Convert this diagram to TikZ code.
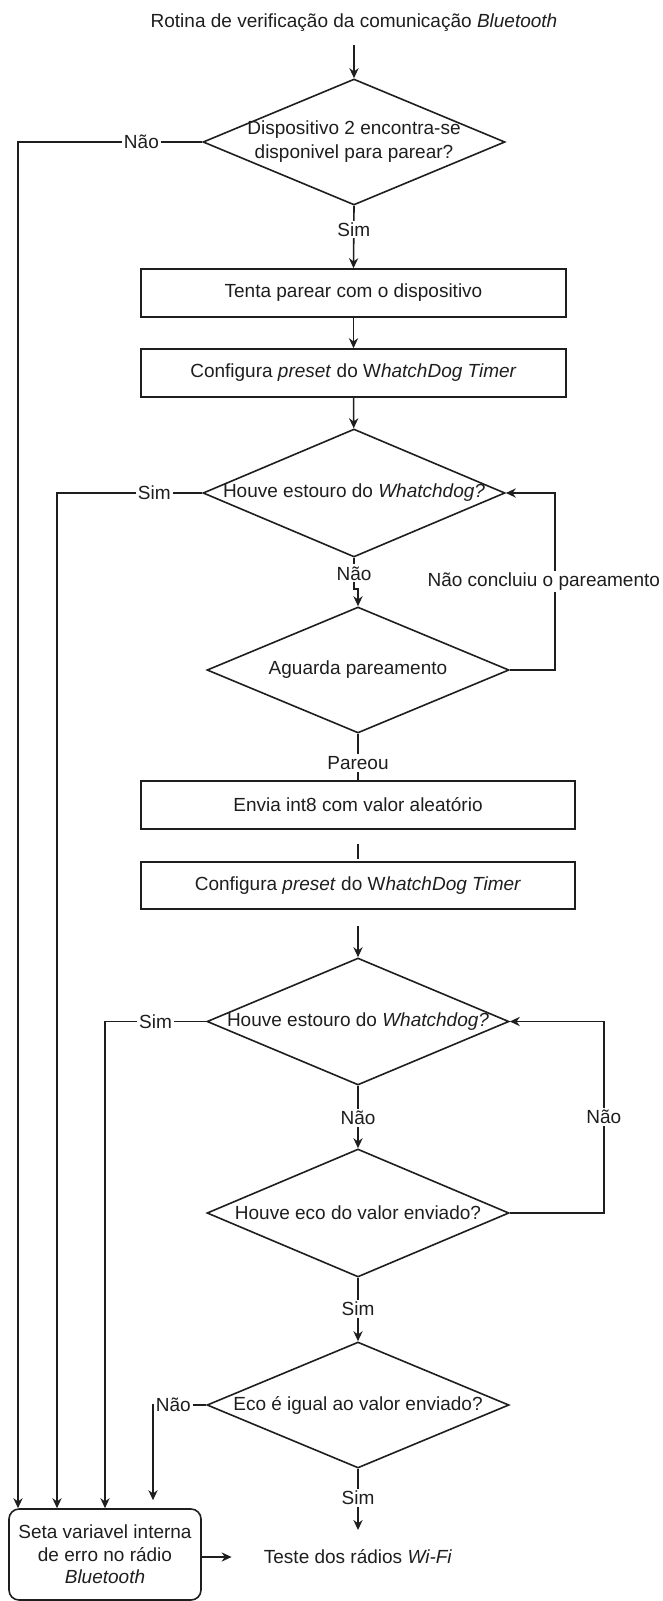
\documentclass[tikz,border=0pt]{standalone}
\usepackage{fontspec}
\setmainfont{Liberation Sans}
\usetikzlibrary{shapes.geometric,arrows.meta,calc}
\definecolor{ink}{HTML}{1E1E1E}
\begin{document}
\begin{tikzpicture}[x=0.5pt,y=-0.5pt,
  every node/.style={font=\fontsize{9.5}{12}\selectfont, text=ink},
  line/.style={draw=ink, line width=0.8pt},
  arr/.style={line, -{Stealth[length=5pt,width=4.6pt]}},
  dia/.style={diamond, draw=ink, line width=0.8pt, minimum width=151pt, minimum height=63pt, inner sep=0pt},
  procbox/.style={rectangle, draw=ink, line width=0.8pt, minimum width=212.5pt, minimum height=24pt, inner sep=0pt},
  lbl/.style={fill=white, inner sep=1pt},
  plain/.style={inner sep=0pt}
]
\useasboundingbox (0,0) rectangle (663,1601);

% title
\node[inner xsep=2pt, inner ysep=7pt, text height=7pt, text depth=2pt] (title) at (354,22) {Rotina de verificação da comunicação \textit{Bluetooth}};

% decision 1
\node[dia] (D1) at (354,142) {};
\node[plain, align=center] (D1t) at (D1) {Dispositivo 2 encontra-se\\disponivel para parear?};

% boxes 1,2
\node[procbox] (B1) at (353.5,293) {Tenta parear com o dispositivo};
\node[procbox] (B2) at (353.5,373) {Configura \textit{preset} do W\textit{hatchDog Timer}};

% decision 2
\node[dia, minimum height=64pt] (D2) at (354,493) {};
\node[plain] (D2t) at (D2) {Houve estouro do \textit{Whatchdog?}};

% decision 3
\node[dia] (D3) at (358,670) {};
\node[plain] (D3t) at (D3) {Aguarda pareamento};

% boxes 3,4
\node[procbox, minimum width=217pt] (B3) at (358,805) {Envia int8 com valor aleatório};
\node[procbox, minimum width=217pt, minimum height=23.5pt] (B4) at (358,885.5) {Configura \textit{preset} do W\textit{hatchDog Timer}};

% decision 4
\node[dia, minimum height=63.5pt] (D4) at (358,1021.5) {};
\node[plain] (D4t) at (D4) {Houve estouro do \textit{Whatchdog?}};

% decision 5
\node[dia, minimum height=64pt] (D5) at (358,1213) {};
\node[plain] (D5t) at (D5) {Houve eco do valor enviado?};

% decision 6
\node[dia, minimum height=63pt] (D6) at (358,1405) {};
\node[plain] (D6t) at (D6) {Eco é igual ao valor enviado?};

% error box
\node[rectangle, rounded corners=5pt, draw=ink, line width=0.8pt, minimum width=96pt, minimum height=45.5pt, inner sep=0pt, align=center, font=\fontsize{9.5}{11.25}\selectfont] (Err) at (105,1554.5) {Seta variavel interna\\de erro no rádio\\\textit{Bluetooth}};

% wifi test
\node[inner sep=0pt, minimum width=126pt, minimum height=12pt] (Wifi) at (358,1557) {Teste dos rádios \textit{Wi-Fi}};

% helper coordinates
\coordinate (c1) at (18,142);
\coordinate (c2) at (57,493);
\coordinate (c3) at (105,1021.5);
\coordinate (c4) at (153,1405);
\coordinate (endY) at (358,1530);

% main flow
\draw[arr] (title) -- (D1);
\draw[arr] (D1.south) -- node[lbl,pos=0.38]{Sim} (B1.north);
\draw[arr] (B1) -- (B2);
\draw[arr] (B2) -- (D2);
\draw[arr] (D2.south) -- node[lbl,pos=0.5]{Não} ++(0,31) -| (D3.north);
\draw[line] (D3.south) -- node[lbl,pos=0.63]{Pareou} (B3.north);
\draw[line] ([yshift=1pt]B4.north) -- ([yshift=8.5pt]B4.north);
\draw[arr, line width=1.1pt] ([yshift=-8pt]B4.south) -- (D4.north);
\draw[arr] (D4.south) -- node[lbl,pos=0.52]{Não} (D5.north);
\draw[arr] (D5.south) -- node[lbl,pos=0.49]{Sim} (D6.north);
\draw[arr] (D6.south) -- node[lbl,pos=0.48]{Sim} (endY);

% loops
\draw[arr] (D3.east) -- ++(45,0) |- node[lbl,pos=0.25,xshift=-5.5pt]{Não concluiu o pareamento} (D2.east);
\draw[arr] (D5.east) -- ++(94,0) |- node[lbl,pos=0.25]{Não} (D4.east);

% error branches
\draw[arr] (D1.west) -- node[lbl,pos=0.33]{Não} (c1) -- (c1 |- Err.north);
\draw[arr] (D2.west) -- node[lbl,pos=0.33]{Sim} (c2) -- (c2 |- Err.north);
\draw[arr] (D4.west) -- node[lbl,pos=0.5]{Sim} (c3) -- (c3 |- Err.north);
\draw[arr] (D6.west) -- node[lbl,pos=0.62]{Não} (c4) -- ([yshift=4pt]c4 |- Err.north);

% to wifi
\draw[arr] (Err.east |- Wifi) -- (Wifi.west);
\end{tikzpicture}
\end{document}
